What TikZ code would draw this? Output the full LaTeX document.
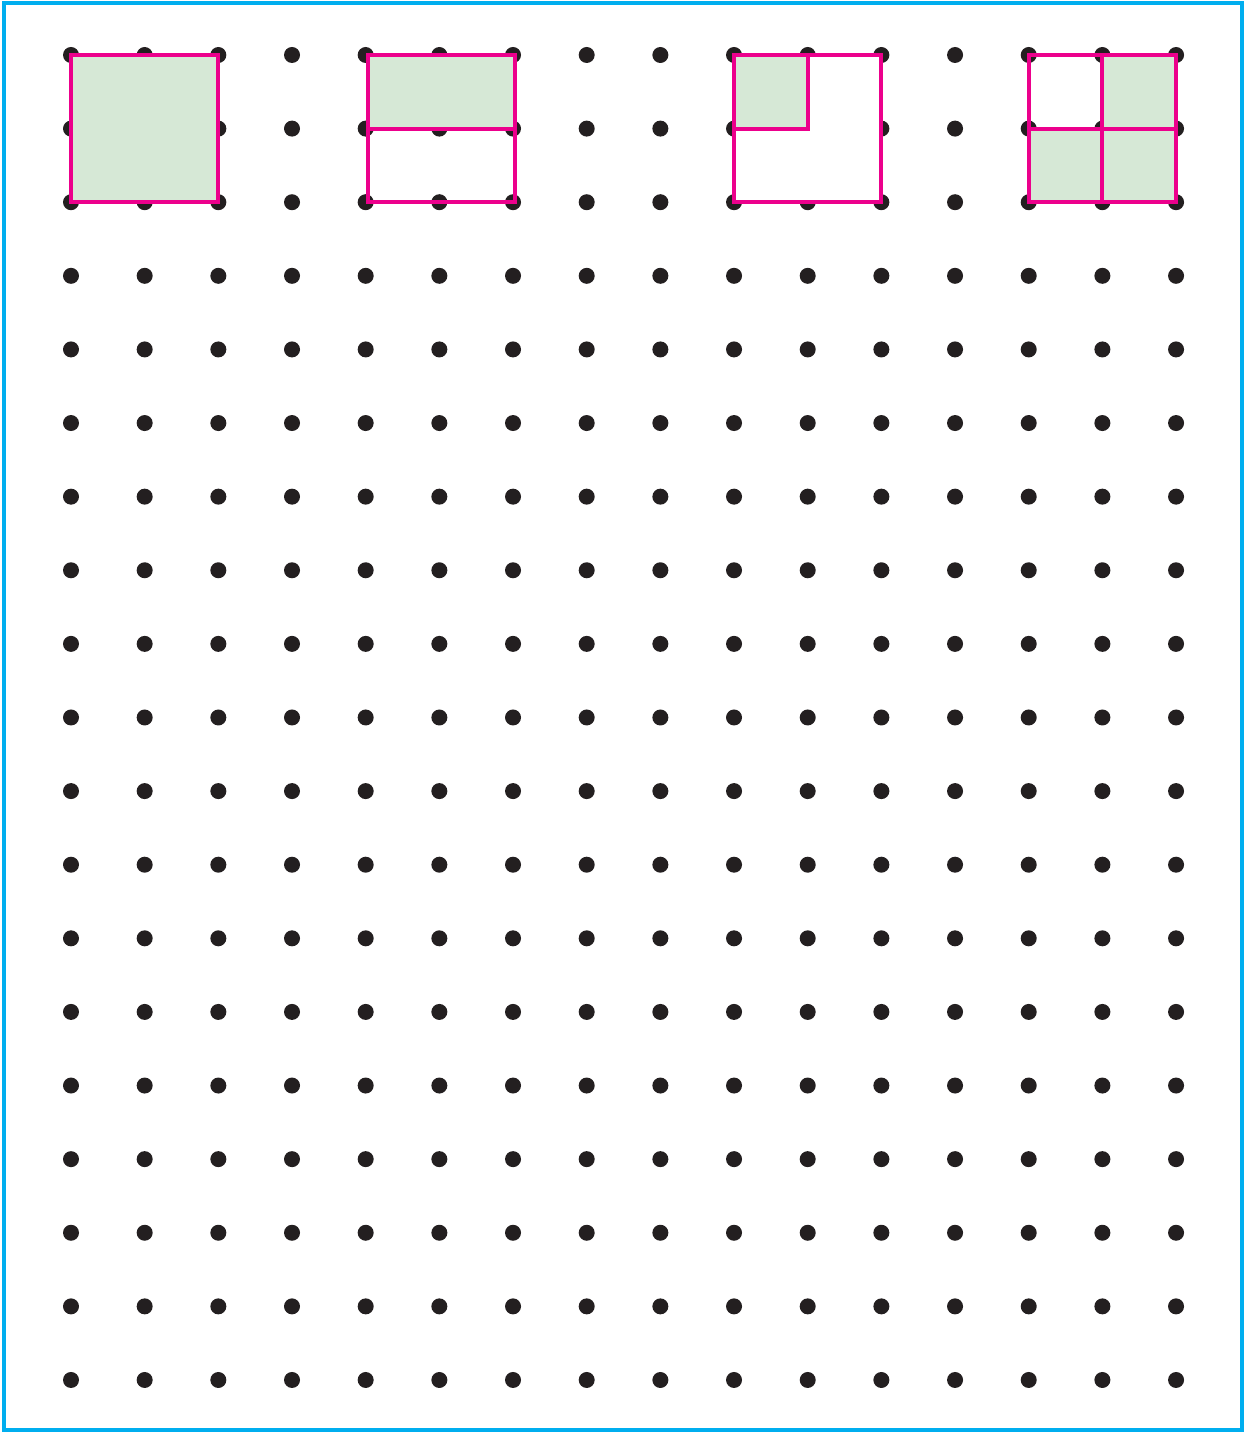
\documentclass[tikz,border=0pt]{standalone}
\usepackage{tikz}
\definecolor{framecolor}{RGB}{0,174,239}
\definecolor{pinkcolor}{RGB}{236,0,140}
\definecolor{greencolor}{RGB}{214,232,214}
\definecolor{dotcolor}{RGB}{35,31,32}

\begin{document}
\begin{tikzpicture}[x=36.835pt, y=-36.805pt]
\tikzset{
  outline/.style={draw=pinkcolor, line width=2pt},
  shade/.style={fill=greencolor},
  griddot/.style={fill=dotcolor}
}
\useasboundingbox (-0.9638,-0.747) rectangle (15.963,18.734);

% Frame
\draw[framecolor, line width=1.75pt] (-0.909,-0.706) rectangle (15.895,18.678);

% Dot grid
\foreach \c in {0,...,15}
  \foreach \r in {0,...,18}
    \fill[griddot] (\c,\r) circle[radius=4pt];

% Whole square shaded
\draw[outline, shade] (0,0) rectangle (2,2);

% Half shaded
\fill[shade] (4.03,0) rectangle (6.03,1);
\draw[outline] (4.03,0) rectangle (6.03,2) (4.03,1) -- (6.03,1);

% Quarter shaded
\fill[white] (9,0) rectangle (11,2);
\fill[shade] (9,0) rectangle (10,1);
\draw[outline] (9,0) rectangle (11,2) (9,1) -| (10,0);

% Three quarters shaded
\fill[shade] (14,0) rectangle (15,1) (13,1) rectangle (15,2);
\draw[outline] (13,0) rectangle (15,2) (13,1) -- (15,1) (14,0) -- (14,2);
\end{tikzpicture}
\end{document}
